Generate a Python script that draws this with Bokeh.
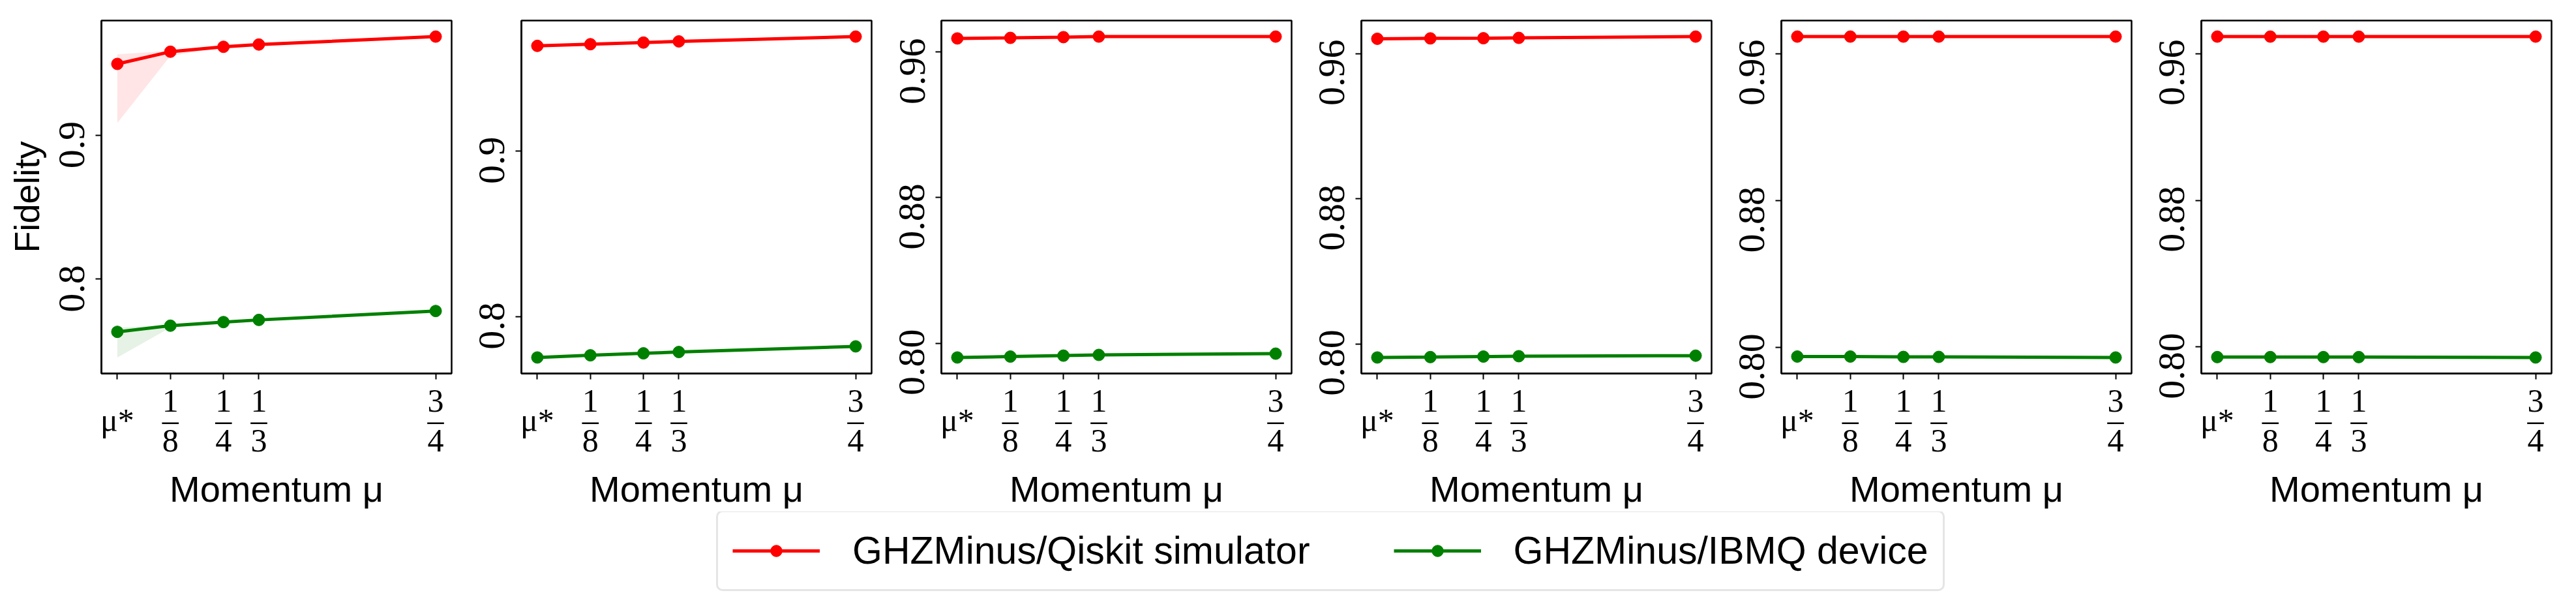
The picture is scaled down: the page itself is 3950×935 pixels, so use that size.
from bokeh.plotting import figure
from bokeh.layouts import row, column
from bokeh.models import (ColumnDataSource, Range1d, FixedTicker, CustomJSTickFormatter,
                          Legend, LegendItem)
from bokeh.embed import file_html
from bokeh.resources import INLINE

# ---------------- data ----------------
mu_values = [0.0, 0.125, 0.25, 1 / 3, 0.75]
mu_labels = ["\nμ*\n", "1\n–\n8", "1\n–\n4", "1\n–\n3", "3\n–\n4"]

sim_p1 = [0.9497, 0.9582, 0.9616, 0.9632, 0.9687]
sim_p2 = [0.9635, 0.9645, 0.9655, 0.9662, 0.9691]
sim_p3 = [0.9675, 0.9678, 0.9682, 0.9685, 0.9685]
sim_p4 = [0.9682, 0.9684, 0.9685, 0.9687, 0.9694]
sim_p5 = [0.9693, 0.9693, 0.9693, 0.9693, 0.9693]
sim_p6 = [0.9693, 0.9693, 0.9693, 0.9693, 0.9693]

dev_p1 = [0.7634, 0.7677, 0.7702, 0.7717, 0.7779]
dev_p2 = [0.7752, 0.7765, 0.7777, 0.7785, 0.7819]
dev_p3 = [0.7922, 0.7927, 0.7932, 0.7936, 0.7943]
dev_p4 = [0.7925, 0.7927, 0.7930, 0.7932, 0.7935]
dev_p5 = [0.7952, 0.7952, 0.7950, 0.7950, 0.7947]
dev_p6 = [0.7945, 0.7945, 0.7945, 0.7945, 0.7943]

# spread bands (panel 1 only)
sim_p1_lower = [0.9086, 0.9553, 0.9612, 0.9632, 0.9687]
sim_p1_upper = [0.9564, 0.9588, 0.9618, 0.9633, 0.9687]
dev_p1_lower = [0.7456, 0.7664, 0.7700, 0.7717, 0.7779]
dev_p1_upper = [0.7664, 0.7680, 0.7703, 0.7717, 0.7779]

NB = "\u00a0"
yticks_a = [0.8, 0.9]
ylabels_a = ["0.8" + NB * 2, "0.9" + NB * 2]
yticks_b = [0.80, 0.88, 0.96]
ylabels_b = ["0.80" + NB * 4, "0.88" + NB * 4, "0.96" + NB * 4]

series_names = ["GHZMinus/Qiskit simulator", "GHZMinus/IBMQ device"]

sims = [sim_p1, sim_p2, sim_p3, sim_p4, sim_p5, sim_p6]
devs = [dev_p1, dev_p2, dev_p3, dev_p4, dev_p5, dev_p6]
ytick_sets = [(yticks_a, ylabels_a), (yticks_a, ylabels_a)] + [(yticks_b, ylabels_b)] * 4

RED = "#ff0000"
GREEN = "#008000"
SERIF = "Liberation Serif"
SANS = "Liberation Sans"
LW = 5
MS = 18

FMT_CODE = """
let best = 0;
for (let k = 0; k < mu_ticks.length; k++) {
  if (Math.abs(mu_ticks[k] - tick) < Math.abs(mu_ticks[best] - tick)) best = k;
}
return labels[best];
"""

xspan = max(mu_values) - min(mu_values)
x_lo = min(mu_values) - 0.05 * xspan
x_hi = max(mu_values) + 0.05 * xspan

figs = []
for i in range(6):
    vals = sims[i] + devs[i]
    if i == 0:
        vals = vals + sim_p1_lower + sim_p1_upper + dev_p1_lower + dev_p1_upper
    lo, hi = min(vals), max(vals)
    pad = 0.05 * (hi - lo)
    p = figure(frame_width=537, frame_height=541,
               x_range=Range1d(x_lo, x_hi), y_range=Range1d(lo - pad, hi + pad),
               output_backend="svg", toolbar_location=None,
               min_border_top=31, min_border_bottom=210,
               min_border_left=155 if i == 0 else 97, min_border_right=10)
    p.grid.visible = False
    p.outline_line_color = "black"
    p.outline_line_width = 2.5
    p.background_fill_color = "white"

    if i == 0:
        p.varea(x=mu_values, y1=sim_p1_lower, y2=sim_p1_upper, fill_color=RED, fill_alpha=0.1)
        p.varea(x=mu_values, y1=dev_p1_lower, y2=dev_p1_upper, fill_color=GREEN, fill_alpha=0.1)

    p.line(mu_values, sims[i], line_color=RED, line_width=LW)
    p.scatter(mu_values, sims[i], size=MS, fill_color=RED, line_color=RED)
    p.line(mu_values, devs[i], line_color=GREEN, line_width=LW)
    p.scatter(mu_values, devs[i], size=MS, fill_color=GREEN, line_color=GREEN)

    # x axis
    xa = p.xaxis[0]
    xa.ticker = FixedTicker(ticks=mu_values)
    xa.formatter = CustomJSTickFormatter(args=dict(labels=mu_labels, mu_ticks=mu_values), code=FMT_CODE)
    xa.major_label_text_font = SERIF
    xa.major_label_text_font_size = "50px"
    xa.major_label_text_line_height = 0.55
    xa.major_label_standoff = 4
    xa.axis_label = "Momentum μ"
    xa.axis_label_text_font = SANS
    xa.axis_label_text_font_style = "normal"
    xa.axis_label_text_font_size = "56px"
    xa.axis_label_standoff = 12

    # y axis
    ya = p.yaxis[0]
    yt, yl = ytick_sets[i]
    ya.ticker = FixedTicker(ticks=yt)
    ya.formatter = CustomJSTickFormatter(args=dict(labels=yl, mu_ticks=yt), code=FMT_CODE)
    ya.major_label_orientation = "vertical"
    ya.major_label_text_font = SERIF
    ya.major_label_text_font_size = "58px"
    ya.major_label_standoff = 4
    if i == 0:
        ya.axis_label = "Fidelity"
        ya.axis_label_text_font = SANS
        ya.axis_label_text_font_style = "normal"
        ya.axis_label_text_font_size = "54px"
        ya.axis_label_standoff = 4

    for ax in (xa, ya):
        ax.axis_line_color = "black"
        ax.axis_line_width = 2.5
        ax.major_tick_line_color = "black"
        ax.major_tick_line_width = 2
        ax.major_tick_out = 9
        ax.major_tick_in = 0
        ax.minor_tick_line_color = None
        ax.major_label_text_color = "black"
        ax.axis_label_text_color = "black"
    figs.append(p)

# legend-only figure (its renderers hold a single NaN point, so nothing is drawn in the frame)
lf = figure(width=3934, height=130, min_border=0, x_range=Range1d(0, 1), y_range=Range1d(0, 1),
            x_axis_location=None, y_axis_location=None,
            output_backend="svg", toolbar_location=None)
lf.grid.visible = False
lf.outline_line_color = None
nan_src = ColumnDataSource(dict(x=[float("nan")], y=[float("nan")]))
r1 = lf.line("x", "y", source=nan_src, line_color=RED, line_width=LW)
s1 = lf.scatter("x", "y", source=nan_src, size=MS, fill_color=RED, line_color=RED)
r2 = lf.line("x", "y", source=nan_src, line_color=GREEN, line_width=LW)
s2 = lf.scatter("x", "y", source=nan_src, size=MS, fill_color=GREEN, line_color=GREEN)
legend = Legend(items=[LegendItem(label=series_names[0], renderers=[r1, s1]),
                       LegendItem(label=series_names[1], renderers=[r2, s2])],
                orientation="horizontal", location=(1098, 8), margin=0,
                padding=22, spacing=128, label_standoff=50,
                glyph_width=134, glyph_height=44, label_height=74,
                label_text_font=SANS, label_text_font_size="59px",
                label_text_color="black",
                border_line_color="#cccccc", border_line_width=3,
                background_fill_color="white", background_fill_alpha=1)
if "border_radius" in Legend.properties():
    legend.border_radius = 10
lf.add_layout(legend)

layout = column(row(*figs), lf)
open("out.html", "w").write(file_html(layout, INLINE))
